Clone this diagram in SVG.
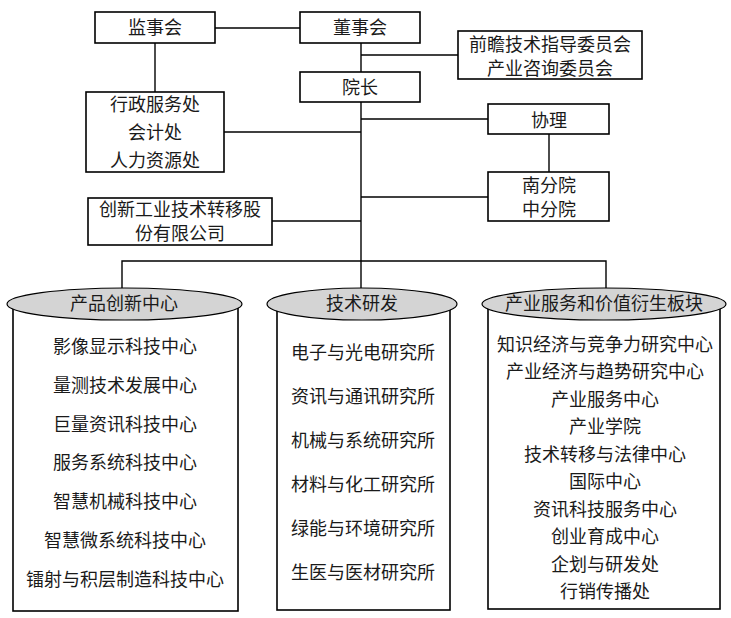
<svg xmlns="http://www.w3.org/2000/svg" width="731" height="618" viewBox="0 0 731 618">
<style>
.box{fill:#fff;stroke:#000;stroke-width:1.6}
.ell{fill:#d4d4d4;stroke:#000;stroke-width:1.2}
.ln{fill:none;stroke:#000;stroke-width:1.4}
text{font-family:"Noto Sans CJK SC","Noto Sans CJK TC",sans-serif;font-size:18px;fill:#1a1a1a;text-anchor:middle}
</style>
<rect width="731" height="618" fill="#fff"/>
<g id="connectors">
<line class="ln" x1="215" y1="28" x2="300" y2="28"/>
<line class="ln" x1="155" y1="43" x2="155" y2="92"/>
<line class="ln" x1="361" y1="43" x2="361" y2="72"/>
<line class="ln" x1="361" y1="55" x2="458" y2="55"/>
<line class="ln" x1="361" y1="102" x2="361" y2="288"/>
<line class="ln" x1="361" y1="119" x2="488" y2="119"/>
<line class="ln" x1="361" y1="197" x2="488" y2="197"/>
<line class="ln" x1="549" y1="134" x2="549" y2="172"/>
<line class="ln" x1="224" y1="132" x2="361" y2="132"/>
<line class="ln" x1="272" y1="221" x2="361" y2="221"/>
<polyline class="ln" points="122,288 122,261 606,261 606,288"/>
</g>
<g id="jianshihui"><rect class="box" x="95" y="12" width="120" height="31"/><text x="155" y="34">监事会</text></g>
<g id="dongshihui"><rect class="box" x="300" y="12" width="120" height="31"/><text x="360" y="34">董事会</text></g>
<g id="yuanzhang"><rect class="box" x="300" y="72" width="120" height="30"/><text x="360" y="94">院长</text></g>
<g id="weiyuanhui"><rect class="box" x="458" y="31" width="184" height="48"/><text x="550" y="51">前瞻技术指导委员会</text><text x="550" y="75">产业咨询委员会</text></g>
<g id="xieli"><rect class="box" x="488" y="104" width="121" height="30"/><text x="549" y="127">协理</text></g>
<g id="fenyuan"><rect class="box" x="488" y="172" width="121" height="49"/><text x="549" y="192">南分院</text><text x="549" y="216">中分院</text></g>
<g id="xingzheng"><rect class="box" x="86" y="92" width="138" height="80"/><text x="155" y="111">行政服务处</text><text x="155" y="139">会计处</text><text x="155" y="167">人力资源处</text></g>
<g id="chuangxin"><rect class="box" x="88" y="198" width="184" height="47"/><text x="180" y="216">创新工业技术转移股</text><text x="180" y="240">份有限公司</text></g>
<g id="chanpin">
<rect class="box" x="13" y="304" width="225" height="307"/>
<ellipse class="ell" cx="124.5" cy="304" rx="117.5" ry="16"/>
<text x="124" y="310">产品创新中心</text>
<text x="125" y="353">影像显示科技中心</text>
<text x="125" y="392">量测技术发展中心</text>
<text x="125" y="431">巨量资讯科技中心</text>
<text x="125" y="469">服务系统科技中心</text>
<text x="125" y="508">智慧机械科技中心</text>
<text x="125" y="547">智慧微系统科技中心</text>
<text x="125" y="586">镭射与积层制造科技中心</text>
</g>
<g id="jishu">
<rect class="box" x="277" y="304" width="173" height="306"/>
<ellipse class="ell" cx="362" cy="304" rx="95" ry="16"/>
<text x="362" y="310">技术研发</text>
<text x="363" y="359">电子与光电研究所</text>
<text x="363" y="403">资讯与通讯研究所</text>
<text x="363" y="447">机械与系统研究所</text>
<text x="363" y="491">材料与化工研究所</text>
<text x="363" y="535">绿能与环境研究所</text>
<text x="363" y="579">生医与医材研究所</text>
</g>
<g id="chanye">
<rect class="box" x="488" y="304" width="232" height="305"/>
<ellipse class="ell" cx="604" cy="304" rx="122" ry="16"/>
<text x="604" y="310">产业服务和价值衍生板块</text>
<text x="605" y="351">知识经济与竞争力研究中心</text>
<text x="605" y="378">产业经济与趋势研究中心</text>
<text x="605" y="406">产业服务中心</text>
<text x="605" y="433">产业学院</text>
<text x="605" y="461">技术转移与法律中心</text>
<text x="605" y="488">国际中心</text>
<text x="605" y="516">资讯科技服务中心</text>
<text x="605" y="543">创业育成中心</text>
<text x="605" y="571">企划与研发处</text>
<text x="605" y="598">行销传播处</text>
</g>
</svg>
